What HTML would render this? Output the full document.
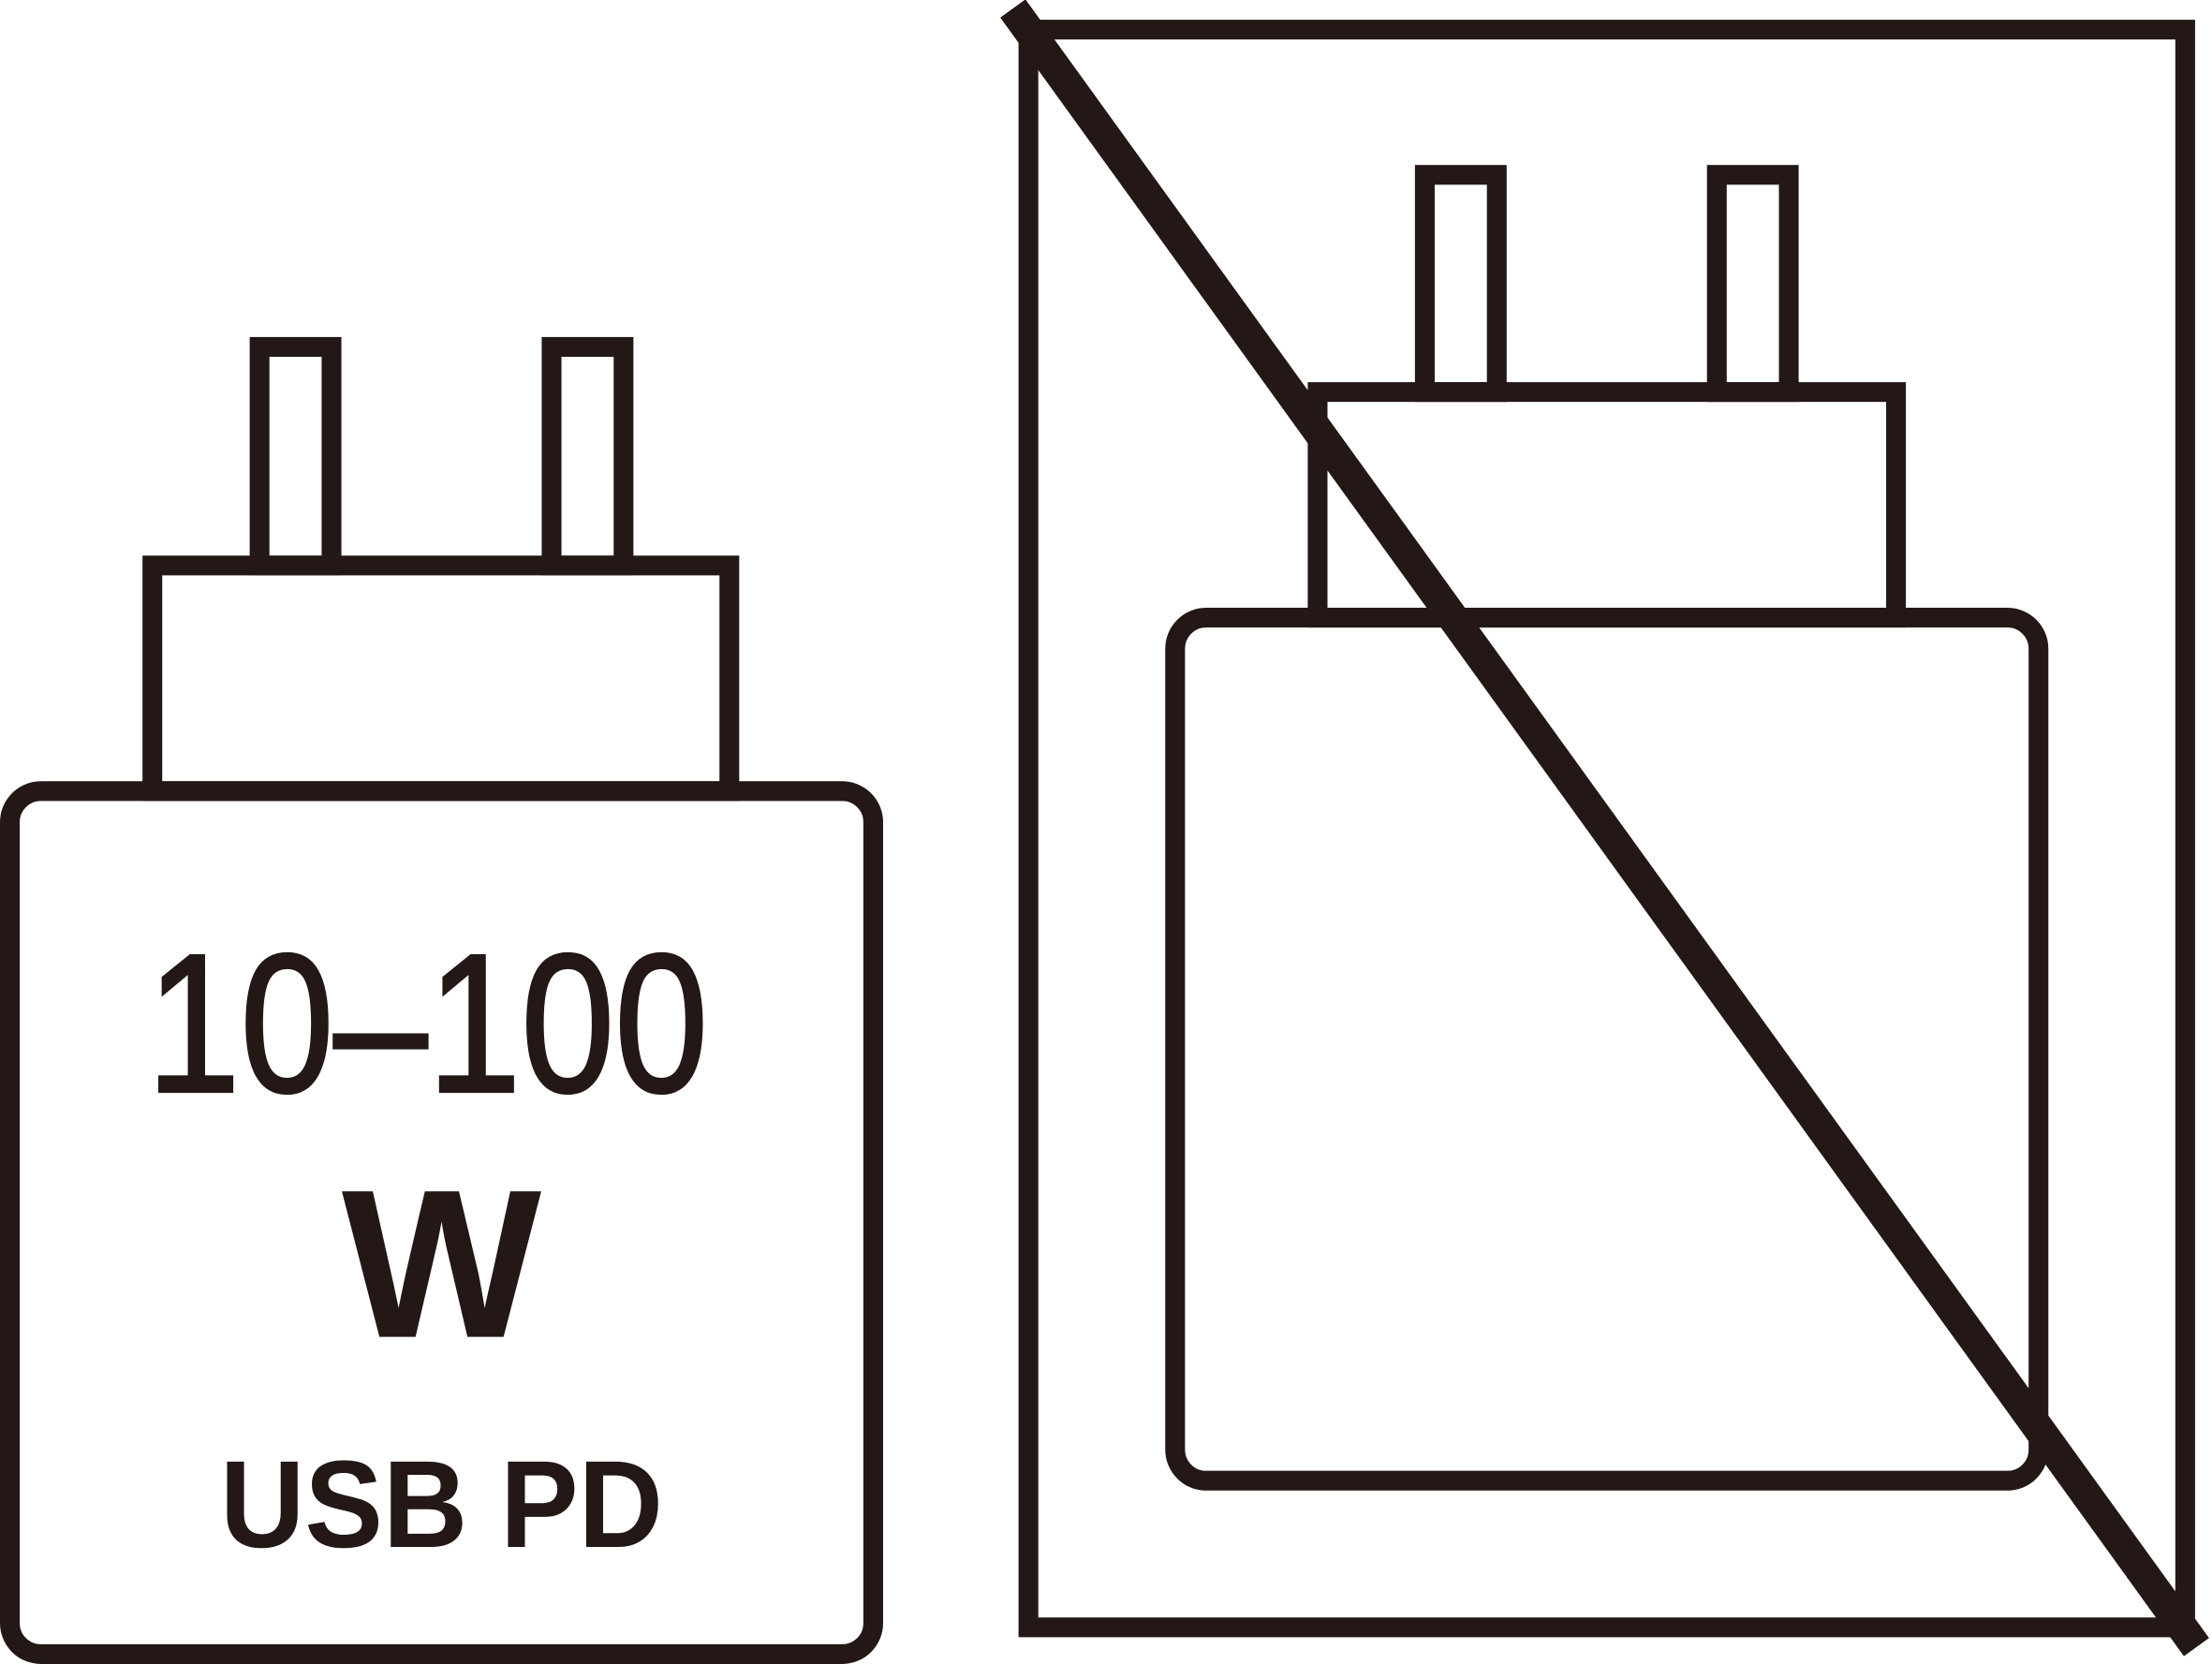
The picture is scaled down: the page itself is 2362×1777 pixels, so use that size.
<!DOCTYPE html>
<html><head><meta charset="utf-8"><style>
html,body{margin:0;padding:0;background:#fff;}
svg{display:block;}
svg text{font-family:"Liberation Sans", sans-serif;}
</style></head><body>
<svg width="2362" height="1777" viewBox="0 0 1568 1180" preserveAspectRatio="none" xmlns="http://www.w3.org/2000/svg">
<g fill="none" stroke="#231815" stroke-width="14">
  <rect x="7" y="561" width="612" height="612" rx="22"/>
  <rect x="108" y="401" width="409" height="160"/>
  <rect x="184" y="246" width="51" height="155"/>
  <rect x="391" y="246" width="51" height="155"/>
  <rect x="729" y="21" width="820" height="1133"/>
  <rect x="833" y="438" width="612" height="612" rx="22"/>
  <rect x="934" y="278" width="410" height="160"/>
  <rect x="1010" y="124" width="51" height="154"/>
  <rect x="1217" y="124" width="51" height="154"/>
</g>
<line x1="718" y1="6" x2="1557" y2="1168" stroke="#231815" stroke-width="22"/>
<g fill="#231815" text-anchor="middle">
  <text x="303" y="774" font-size="140" stroke="#231815" stroke-width="2" textLength="398" lengthAdjust="spacingAndGlyphs">10–100</text>
  <text x="313" y="948" font-size="150" font-weight="bold">W</text>
  <text x="313" y="1097" font-size="88" font-weight="bold" textLength="314" lengthAdjust="spacingAndGlyphs">USB PD</text>
</g>
</svg>
</body></html>
